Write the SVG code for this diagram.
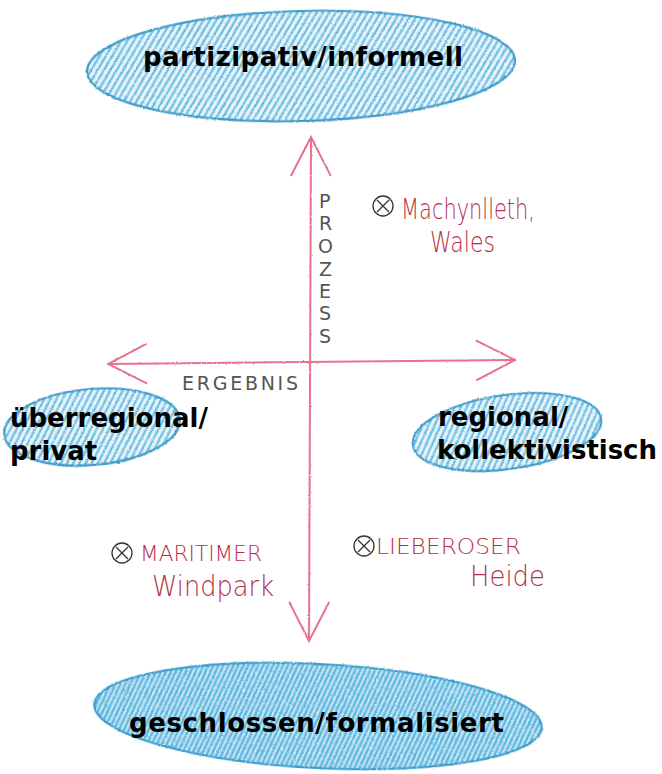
<svg xmlns="http://www.w3.org/2000/svg" width="662" height="774" viewBox="0 0 662 774">
<defs>
<style>
.ell{stroke:#3d9ccb;stroke-width:2.2;filter:url(#rough)}
.big{font-family:"DejaVu Sans",Verdana,sans-serif;font-weight:bold;font-size:26px;fill:#000}
.hand{font-family:"DejaVu Sans","Liberation Sans",sans-serif;fill:#b52f47;font-size:28px;font-weight:300}
.up{text-transform:uppercase;font-size:21px}
.axl{font-family:"DejaVu Sans","Liberation Sans",sans-serif;fill:#555;font-size:19px}
.axis{stroke:#e8728c;stroke-width:2;fill:none;filter:url(#roughU)}
.mk{fill:none;stroke:#333;stroke-width:1.3}
</style>
<pattern id="hatch" patternUnits="userSpaceOnUse" width="5.5" height="10" patternTransform="rotate(32)">
<rect width="5.5" height="10" fill="#e8f5fb"/>
<line x1="1.5" y1="0" x2="1.5" y2="10" stroke="#52b1db" stroke-width="1.9"/>
</pattern>
<pattern id="hatch2" patternUnits="userSpaceOnUse" width="4.5" height="10" patternTransform="rotate(22)">
<rect width="4.5" height="10" fill="#cbe8f5"/>
<line x1="1.5" y1="0" x2="1.5" y2="10" stroke="#58b6de" stroke-width="2.4"/>
</pattern>
<filter id="rough" x="-5%" y="-5%" width="110%" height="110%">
<feTurbulence type="fractalNoise" baseFrequency="0.9" numOctaves="2" seed="3"/>
<feDisplacementMap in="SourceGraphic" scale="2.5" xChannelSelector="R" yChannelSelector="G"/>
</filter>
<filter id="roughU" filterUnits="userSpaceOnUse" x="0" y="0" width="662" height="774">
<feTurbulence type="fractalNoise" baseFrequency="0.9" numOctaves="2" seed="5"/>
<feDisplacementMap in="SourceGraphic" scale="2" xChannelSelector="R" yChannelSelector="G"/>
</filter>
<marker id="chev" viewBox="0 0 44 44" refX="42" refY="22" markerWidth="44" markerHeight="44" markerUnits="userSpaceOnUse" orient="auto-start-reverse">
<path d="M3,2 L42,22 L3,42" fill="none" stroke="#e8728c" stroke-width="2"/>
</marker>
</defs>
<rect width="662" height="774" fill="#fff"/>

<g id="connectors">
<path class="axis" d="M311,137 L309,641" marker-start="url(#chev)" marker-end="url(#chev)"/>
<path class="axis" d="M108,364 L515,360" marker-start="url(#chev)" marker-end="url(#chev)"/>
</g>

<g id="axis-labels">
<text class="axl"><tspan x="319" y="208">P</tspan><tspan x="319" y="230">R</tspan><tspan x="318" y="253">O</tspan><tspan x="319" y="276">Z</tspan><tspan x="319" y="298">E</tspan><tspan x="319" y="320">S</tspan><tspan x="319" y="343">S</tspan></text>
<text class="axl" x="182" y="390" textLength="116">ERGEBNIS</text>
</g>

<g id="node-top">
<ellipse class="ell" cx="301" cy="66" rx="214" ry="55" transform="rotate(-1.5 301 66)" fill="url(#hatch)"/>
<text class="big" x="143" y="66" textLength="320">partizipativ/informell</text>
</g>

<g id="node-left">
<ellipse class="ell" cx="92" cy="427" rx="88" ry="38" transform="rotate(-5 92 427)" fill="url(#hatch)"/>
<text class="big" x="10" y="427">überregional/</text>
<text class="big" x="10" y="460">privat</text>
</g>

<g id="node-right">
<ellipse class="ell" cx="507" cy="432" rx="95" ry="37" transform="rotate(-8 507 432)" fill="url(#hatch)"/>
<text class="big" x="438" y="426">regional/</text>
<text class="big" x="437" y="459" textLength="220">kollektivistisch</text>
</g>

<g id="node-bottom">
<ellipse class="ell" cx="318" cy="716" rx="224" ry="52" transform="rotate(3 318 716)" fill="url(#hatch2)"/>
<text class="big" x="129" y="732" textLength="375">geschlossen/formalisiert</text>
</g>

<g id="point-machynlleth">
<circle class="mk" cx="383" cy="206" r="10"/>
<path class="mk" d="M377,200 L389,212 M389,200 L377,212"/>
<text class="hand" x="401" y="219" textLength="134" lengthAdjust="spacingAndGlyphs">Machynlleth,</text>
<text class="hand" x="430" y="252" textLength="65" lengthAdjust="spacingAndGlyphs">Wales</text>
</g>

<g id="point-windpark">
<circle class="mk" cx="122" cy="553" r="10"/>
<path class="mk" d="M116,547 L128,559 M128,547 L116,559"/>
<text class="hand up" x="140" y="561" textLength="122" lengthAdjust="spacingAndGlyphs">Maritimer</text>
<text class="hand" x="152" y="596" textLength="122" lengthAdjust="spacingAndGlyphs">Windpark</text>
</g>

<g id="point-lieberose">
<circle class="mk" cx="364" cy="546" r="10"/>
<path class="mk" d="M358,540 L370,552 M370,540 L358,552"/>
<text class="hand up" x="376" y="554" textLength="145" lengthAdjust="spacingAndGlyphs">Lieberoser</text>
<text class="hand" x="470" y="586" textLength="75" lengthAdjust="spacingAndGlyphs">Heide</text>
</g>
</svg>
